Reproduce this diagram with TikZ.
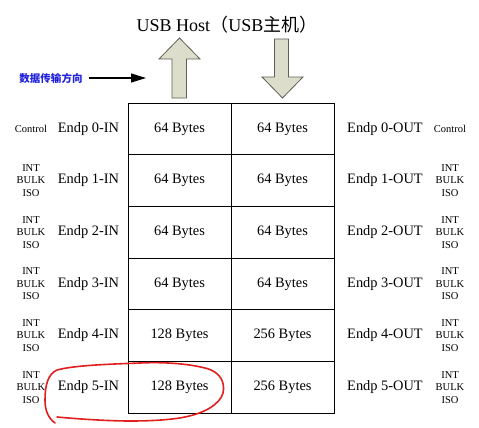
\documentclass[tikz,border=0pt]{standalone}
\usepackage{fontspec}
\setmainfont{Liberation Serif}
\newfontfamily\cjk{Noto Sans CJK SC}
\usetikzlibrary{arrows.meta}
\definecolor{arrfill}{HTML}{DCDDCB}
\definecolor{arrline}{HTML}{5E5E54}
\definecolor{dirblue}{HTML}{2222DD}
\definecolor{penred}{HTML}{E02020}
\tikzset{
  cell/.style={draw=black, line width=1pt, minimum width=103pt, minimum height=51.67pt, inner sep=0pt, font=\fontsize{14.4}{16}\selectfont},
  eplabel/.style={inner sep=0pt, font=\fontsize{14.4}{16}\selectfont},
  typelabel/.style={inner sep=0pt, align=center, font=\fontsize{10.5}{12.5}\selectfont},
  bigarrow/.style={draw=arrline, fill=arrfill, line width=0.8pt, line join=miter},
  redpen/.style={draw=penred, line width=1.6pt, line cap=round, line join=round}
}
\begin{document}
\begin{tikzpicture}[x=1pt, y=-1pt]
\useasboundingbox (0,0) rectangle (479,428);
% title
\node[inner sep=0pt, font=\fontsize{18}{20}\selectfont] (title) at (227,25) {USB Host{\cjk（}USB{\cjk 主机）}};
% big arrows
\draw[bigarrow] (172,98) -- (172,59) -- (159,59) -- (179.5,38) -- (200,59) -- (186.5,59) -- (186.5,98) -- cycle;
\draw[bigarrow] (274.5,39) -- (288.5,39) -- (288.5,77) -- (303,77) -- (282.5,98) -- (262,77) -- (274.5,77) -- cycle;
% direction label
\node[inner sep=0pt, text=dirblue, font=\cjk\bfseries\fontsize{10.5}{12}\selectfont] (dir) at (51,78) {数据传输方向};
\coordinate (dirend) at (146,78);
\draw[line width=1.2pt, -{Triangle[length=15pt, width=9pt]}] (89,78) -- (dirend);
% table rows
\foreach \i/\a/\b/\t in {0/64/64/Control, 1/64/64/INT\\BULK\\ISO, 2/64/64/INT\\BULK\\ISO, 3/64/64/INT\\BULK\\ISO, 4/128/256/INT\\BULK\\ISO, 5/128/256/INT\\BULK\\ISO}{
  \pgfmathsetmacro{\yc}{103+51.67*(\i+0.5)}
  \node[cell] (in\i) at (179.5,\yc) {\a\ Bytes};
  \node[cell] (out\i) at (282.5,\yc) {\b\ Bytes};
  \node[eplabel] (lin\i) at (88.5,\yc) {Endp \i-IN};
  \node[eplabel] (lout\i) at (385,\yc) {Endp \i-OUT};
  \node[typelabel] (tin\i) at (31,\yc) {\t};
  \node[typelabel] (tout\i) at (450,\yc) {\t};
}
% red hand-drawn ellipse
\draw[redpen] (57,417) .. controls (90,420) and (115,421) .. (130,421)
  .. controls (150,421) and (170,420) .. (185,417)
  .. controls (205,413) and (220,404) .. (223,393)
  .. controls (225,384) and (222,372) .. (205,368)
  .. controls (185,363) and (160,362) .. (140,363)
  .. controls (115,364) and (75,365) .. (57,370)
  .. controls (48,374) and (45,385) .. (45,400)
  .. controls (45,410) and (48,418) .. (55,423);
\end{tikzpicture}
\end{document}
